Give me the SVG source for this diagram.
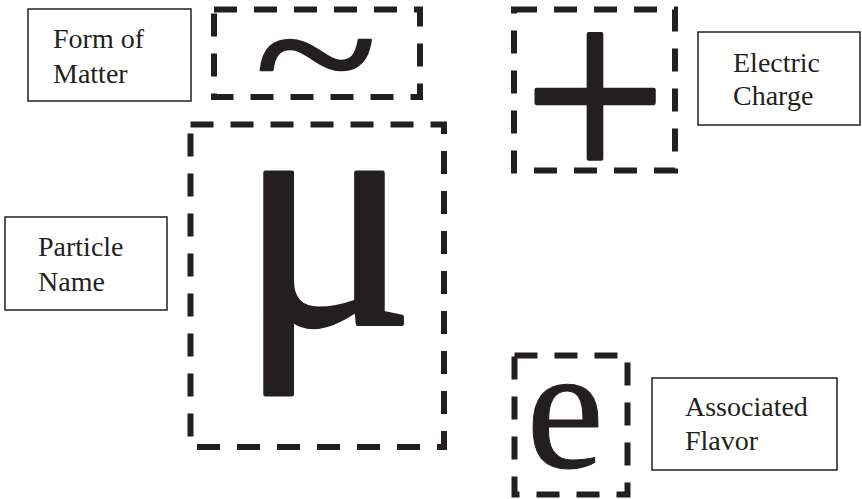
<svg xmlns="http://www.w3.org/2000/svg" width="862" height="499" viewBox="0 0 862 499">
<style>
.lbl{fill:#fff;stroke:#231f20;stroke-width:1.5}
.dash{fill:none;stroke:#231f20;stroke-width:6;stroke-dasharray:23 17}
text{font-family:"Times New Roman","Liberation Serif","DejaVu Serif",serif;fill:#231f20}
.t{font-size:28px}
.g{text-anchor:middle;stroke:#231f20;stroke-linejoin:round}
</style>
<rect width="862" height="499" fill="#fff"/>
<g id="form-of-matter">
<rect class="lbl" x="28" y="9" width="163" height="92"/>
<text class="t" x="53" y="48">Form of</text>
<text class="t" x="53" y="83">Matter</text>
</g>
<g id="tilde">
<rect class="dash" x="214" y="9.5" width="206" height="87.5"/>
<text class="g" x="316" y="134" font-size="226" stroke-width="3" transform="translate(0,52) scale(1,0.8) translate(0,-57)">~</text>
</g>
<g id="plus">
<rect class="dash" x="514" y="9.5" width="161" height="161"/>
<text class="g" x="595" y="180" font-size="252" stroke-width="4" transform="translate(595,95) scale(1,1.06) translate(-595,-95)">+</text>
</g>
<g id="electric-charge">
<rect class="lbl" x="698" y="32" width="162" height="93"/>
<text class="t" x="733" y="72">Electric</text>
<text class="t" x="733" y="105">Charge</text>
</g>
<g id="particle-name">
<rect class="lbl" x="5" y="217" width="162" height="93"/>
<text class="t" x="38" y="256">Particle</text>
<text class="t" x="38" y="291">Name</text>
</g>
<g id="mu">
<rect class="dash" x="190.5" y="124.5" width="253.5" height="322.5"/>
<text class="g" x="327" y="324" font-size="330" stroke-width="4">μ</text>
</g>
<g id="e">
<rect class="dash" x="514.5" y="355.5" width="113" height="139"/>
<text class="g" x="565" y="467" font-size="175" stroke-width="1">e</text>
</g>
<g id="associated-flavor">
<rect class="lbl" x="652" y="378" width="185" height="92"/>
<text class="t" x="685" y="416">Associated</text>
<text class="t" x="685" y="450">Flavor</text>
</g>
<g id="connectors"></g>
</svg>
